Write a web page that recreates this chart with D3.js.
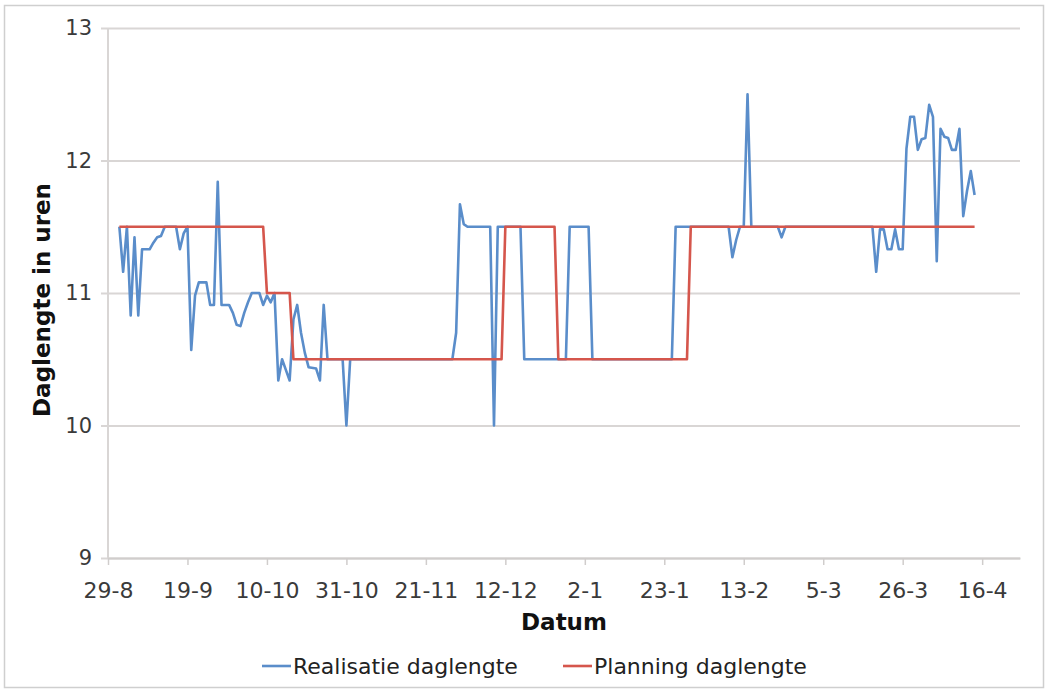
<!DOCTYPE html>
<html><head><meta charset="utf-8">
<script src="https://cdn.jsdelivr.net/npm/d3@7"></script>
<style>html,body{margin:0;padding:0;background:#fff;} svg{display:block;}</style>
</head><body>
<svg id="chart" width="1048" height="691"></svg>
<script>
// ---- data ----
const realisatieDates = ["2011-09-01","2011-09-02","2011-09-03","2011-09-04","2011-09-05","2011-09-06","2011-09-07","2011-09-09","2011-09-10","2011-09-11","2011-09-12","2011-09-13","2011-09-16","2011-09-17","2011-09-18","2011-09-19","2011-09-20","2011-09-21","2011-09-22","2011-09-24","2011-09-25","2011-09-26","2011-09-27","2011-09-28","2011-09-30","2011-10-01","2011-10-02","2011-10-03","2011-10-04","2011-10-05","2011-10-06","2011-10-08","2011-10-09","2011-10-10","2011-10-11","2011-10-12","2011-10-13","2011-10-14","2011-10-15","2011-10-16","2011-10-17","2011-10-18","2011-10-19","2011-10-20","2011-10-21","2011-10-23","2011-10-24","2011-10-25","2011-10-26","2011-10-30","2011-10-31","2011-11-01","2011-11-28","2011-11-29","2011-11-30","2011-12-01","2011-12-02","2011-12-08","2011-12-09","2011-12-10","2011-12-16","2011-12-17","2011-12-28","2011-12-29","2012-01-03","2012-01-04","2012-01-25","2012-01-26","2012-02-09","2012-02-10","2012-02-11","2012-02-12","2012-02-13","2012-02-14","2012-02-15","2012-02-22","2012-02-23","2012-02-24","2012-03-18","2012-03-19","2012-03-20","2012-03-21","2012-03-22","2012-03-23","2012-03-24","2012-03-25","2012-03-26","2012-03-27","2012-03-28","2012-03-29","2012-03-30","2012-03-31","2012-04-01","2012-04-02","2012-04-03","2012-04-04","2012-04-05","2012-04-06","2012-04-07","2012-04-08","2012-04-09","2012-04-10","2012-04-11","2012-04-12","2012-04-13","2012-04-14"];
const realisatieHours = [11.5,11.16,11.5,10.83,11.42,10.83,11.33,11.33,11.38,11.42,11.43,11.5,11.5,11.33,11.45,11.5,10.57,10.98,11.08,11.08,10.91,10.91,11.84,10.91,10.91,10.85,10.76,10.75,10.85,10.93,11.0,11.0,10.91,10.98,10.93,11.0,10.34,10.5,10.42,10.34,10.8,10.91,10.7,10.55,10.44,10.43,10.34,10.91,10.5,10.5,10.0,10.5,10.5,10.7,11.67,11.52,11.5,11.5,10.0,11.5,11.5,10.5,10.5,11.5,11.5,10.5,10.5,11.5,11.5,11.27,11.4,11.5,11.5,12.5,11.5,11.5,11.42,11.5,11.5,11.16,11.48,11.48,11.33,11.33,11.48,11.33,11.33,12.09,12.33,12.33,12.08,12.16,12.17,12.42,12.33,11.24,12.24,12.18,12.17,12.08,12.08,12.24,11.58,11.77,11.92,11.74];

const planningDates = ["2011-09-01","2011-10-09","2011-10-10","2011-10-16","2011-10-17","2011-12-11","2011-12-12","2011-12-25","2011-12-26","2012-01-29","2012-01-30","2012-04-14"];
const planningHours = [11.5,11.5,11.0,11.0,10.5,10.5,11.5,11.5,10.5,10.5,11.5,11.5];

const xDomain = ["2011-08-29","2012-04-26"];
const tickDates = ["2011-08-29","2011-09-19","2011-10-10","2011-10-31","2011-11-21","2011-12-12","2012-01-02","2012-01-23","2012-02-13","2012-03-05","2012-03-26","2012-04-16"];
const yTicks = [9,10,11,12,13];
const seriesNames = ["Realisatie daglengte","Planning daglengte"];
const xTitle = "Datum";
const yTitle = "Daglengte in uren";

// ---- layout ----
const W = 1048, H = 691;
const plot = {left:108, right:1020, top:28, bottom:558};
const colors = ["#5A8DCA","#D5564C"];
const FONT = "'DejaVu Sans', Verdana, sans-serif";
const parse = d3.utcParse("%Y-%m-%d");
const fmt = d3.utcFormat("%-d-%-m");

const svg = d3.select("#chart");
svg.append("rect").attr("width",W).attr("height",H).attr("fill","#fff");
svg.append("rect").attr("x",4.5).attr("y",5.5).attr("width",1039).attr("height",682)
  .attr("fill","none").attr("stroke","#cfcfcf").attr("stroke-width",1.5);

const x = d3.scaleUtc().domain(xDomain.map(parse)).range([plot.left, plot.right]);
const y = d3.scaleLinear().domain([9,13]).range([plot.bottom, plot.top]);

// horizontal gridlines + y axis
const yAxis = d3.axisLeft(y).tickValues(yTicks).tickFormat(d3.format("d"))
  .tickSize(-(plot.right-plot.left)).tickSizeOuter(0);
const gy = svg.append("g").attr("transform",`translate(${plot.left},0)`).call(yAxis);
gy.select(".domain").remove();
gy.selectAll(".tick line").attr("stroke","#d9d6d5").attr("stroke-width",2).attr("x1",-7);
gy.selectAll(".tick text").attr("font-family",FONT).attr("font-size",21).attr("fill","#3a3a3a").attr("x",-16);
// vertical axis line
svg.append("line").attr("x1",plot.left).attr("x2",plot.left).attr("y1",plot.top).attr("y2",plot.bottom)
  .attr("stroke","#d9d6d5").attr("stroke-width",2);

// x axis
const xAxis = d3.axisBottom(x).tickValues(tickDates.map(parse)).tickFormat(fmt)
  .tickSize(7).tickSizeOuter(0).tickPadding(17);
const gx = svg.append("g").attr("transform",`translate(0,${plot.bottom})`).call(xAxis);
gx.select(".domain").attr("stroke","#d0cdcc").attr("stroke-width",2);
gx.selectAll(".tick line").attr("stroke","#d0cdcc").attr("stroke-width",1.5);
gx.selectAll(".tick text").attr("font-family",FONT).attr("font-size",22).attr("fill","#3a3a3a");

// titles
svg.append("text").attr("x",(plot.left+plot.right)/2).attr("y",630).attr("text-anchor","middle")
  .attr("font-family",FONT).attr("font-weight","bold").attr("font-size",23).attr("fill","#111").text(xTitle);
svg.append("text").attr("transform",`translate(50,${(plot.top+plot.bottom)/2+7}) rotate(-90)`)
  .attr("text-anchor","middle").attr("font-family",FONT).attr("font-weight","bold").attr("font-size",23)
  .attr("fill","#111").text(yTitle);

// series
const line = d3.line().x(d=>x(d.date)).y(d=>y(d.v));
const series = [
  realisatieDates.map((d,i)=>({date:parse(d), v:realisatieHours[i]})),
  planningDates.map((d,i)=>({date:parse(d), v:planningHours[i]}))
];
series.forEach((s,i)=>{
  svg.append("path").datum(s).attr("d",line).attr("fill","none")
    .attr("stroke",colors[i]).attr("stroke-width",2.6).attr("stroke-linejoin","round");
});

// legend
const legendX = [262, 563];
seriesNames.forEach((n,i)=>{
  const g = svg.append("g").attr("transform",`translate(${legendX[i]},0)`);
  g.append("line").attr("x1",0).attr("x2",29).attr("y1",666).attr("y2",666)
    .attr("stroke",colors[i]).attr("stroke-width",2.6);
  g.append("text").attr("x",31).attr("y",674).attr("font-family",FONT).attr("font-size",22)
    .attr("fill","#222").text(n);
});
</script>
</body></html>
